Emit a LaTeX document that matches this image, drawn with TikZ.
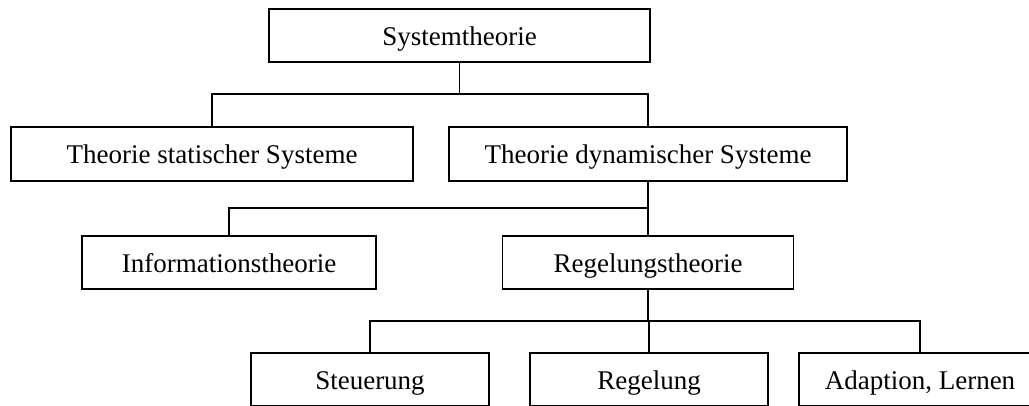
\documentclass[tikz,border=0pt]{standalone}
\usepackage{fontspec}
\setmainfont{Liberation Serif}
\begin{document}
\begin{tikzpicture}[x=1pt,y=-1pt,
  box/.style={draw, line width=1.4pt, inner sep=0pt, minimum height=53pt,
    text height=19pt, text depth=0pt, font=\fontsize{27}{32}\selectfont},
  link/.style={line width=1.4pt}]
  \clip (0,0) rectangle (1029,405);
  % level 0
  \node[box, minimum width=381pt] (sys) at (459.5,35.5) {Systemtheorie};
  % level 1
  \node[box, minimum width=402pt, minimum height=54pt] (stat) at (212,154) {Theorie statischer Systeme};
  \node[box, minimum width=398pt, minimum height=54pt] (dyn) at (648,154) {Theorie dynamischer Systeme};
  % level 2
  \node[box, minimum width=294pt] (info) at (229,262.5) {Informationstheorie};
  \node[box, minimum width=291pt] (regth) at (648,262.5) {Regelungstheorie};
  % level 3
  \node[box, minimum width=238pt] (steu) at (370,379.5) {Steuerung};
  \node[box, minimum width=238pt] (reg) at (649,379.5) {Regelung};
  \node[box, minimum width=242pt] (adap) at (920,379.5) {Adaption, Lernen};

  % junction points of the tree branches
  \coordinate (j1) at (459.5,94);
  \coordinate (j2) at (648,208);
  \coordinate (j3) at (648,321);

  \draw[link] (sys) -- (j1);
  \draw[link] (stat.north) |- (j1) -| (dyn.north);

  \draw[link] (dyn.south) -- (regth.north);
  \draw[link] (info.north) |- (j2);

  \draw[link] (regth.south) -- (j3);
  \draw[link] (steu.north) |- (j3) -| (adap.north);
  \draw[link] (reg.north) -- (reg.north |- j3);
\end{tikzpicture}
\end{document}
